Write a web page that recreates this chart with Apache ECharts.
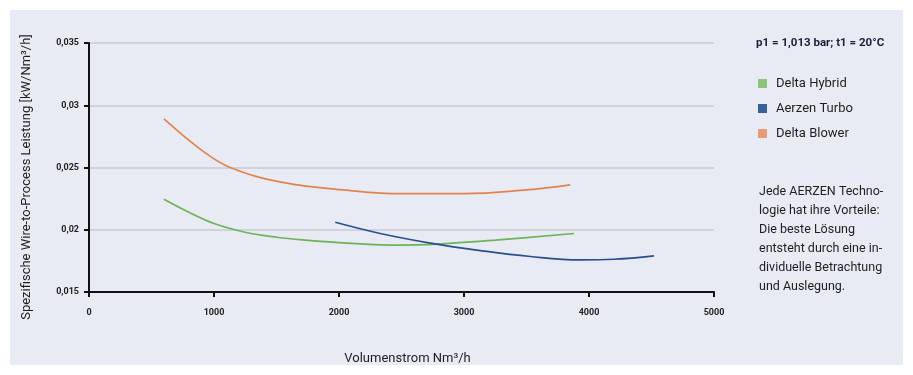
<!DOCTYPE html>
<html>
<head>
<meta charset="utf-8">
<script src="https://cdn.jsdelivr.net/npm/echarts@6/dist/echarts.min.js"></script>
<style>
html,body{margin:0;padding:0;background:#fff;}
#c{width:913px;height:375px;}
</style>
</head>
<body>
<div id="c"></div>
<script>
// Data
const seriesNames = ['Delta Hybrid', 'Aerzen Turbo', 'Delta Blower'];
const hybridX = [600, 800, 1000, 1250, 1500, 1750, 2000, 2500, 2750, 3250, 3880];
const hybridY = [0.02245, 0.0214, 0.0205, 0.0198, 0.0194, 0.01915, 0.01897, 0.01877, 0.01883, 0.01917, 0.0197];
const turboX = [1970, 2330, 2730, 3130, 3530, 3930, 4200, 4520];
const turboY = [0.0206, 0.0197, 0.01893, 0.01833, 0.01785, 0.01758, 0.01763, 0.0179];
const blowerX = [600, 900, 1130, 1550, 2090, 2500, 3000, 3500, 3850];
const blowerY = [0.0289, 0.0264, 0.0250, 0.0238, 0.02315, 0.0229, 0.0229, 0.0232, 0.0236];
const xTicks = [0, 1000, 2000, 3000, 4000, 5000];
const yTicks = [0.015, 0.02, 0.025, 0.03, 0.035];
const yAxisTitle = 'Spezifische Wire-to-Process Leistung [kW/Nm³/h]';
const xAxisTitle = 'Volumenstrom Nm³/h';
const conditionText = 'p1 = 1,013 bar; t1 = 20°C';
const noteLines = ['Jede AERZEN Techno-', 'logie hat ihre Vorteile:', 'Die beste Lösung', 'entsteht durch eine in-', 'dividuelle Betrachtung', 'und Auslegung.'];

const pair = (xs, ys) => xs.map((x, i) => [x, ys[i]]);
const lineColors = ['#6db35a', '#2a4f8e', '#e2834f'];
const legendColors = ['#8cc47c', '#3a6197', '#e59d79'];
const FONT = 'Roboto, "Noto Sans", sans-serif';

const chart = echarts.init(document.getElementById('c'), null, {renderer: 'canvas'});
const data = [pair(hybridX, hybridY), pair(turboX, turboY), pair(blowerX, blowerY)];

chart.setOption({
  backgroundColor: '#ffffff',
  animation: false,
  textStyle: {fontFamily: FONT},
  graphic: [
    {type: 'rect', z: -10, shape: {x: 10, y: 10, width: 893, height: 355}, style: {fill: '#e8ebf4'}},
    {type: 'text', left: 756, top: 37, style: {text: conditionText, font: 'bold 11.5px ' + FONT, fill: '#1a1f3a'}},
    {type: 'text', left: 759, top: 182, style: {text: noteLines.join('\n'), font: '12.5px ' + FONT, lineHeight: 19, fill: '#1e1e1e'}},
    {type: 'text', x: 27, y: 177, rotation: Math.PI / 2,
      style: {text: yAxisTitle, font: '13px ' + FONT, fill: '#1e1e1e', align: 'center', verticalAlign: 'middle'}}
  ],
  legend: {
    orient: 'vertical', left: 753, top: 72, itemWidth: 9, itemHeight: 9, itemGap: 12,
    icon: 'rect',
    textStyle: {fontFamily: FONT, fontSize: 13, color: '#1e1e1e', padding: [0, 0, 0, 4]},
    data: seriesNames.map((n, i) => ({name: n, itemStyle: {color: legendColors[i]}}))
  },
  grid: {left: 89, right: 199, top: 43, bottom: 83, containLabel: false},
  xAxis: {
    type: 'value', min: xTicks[0], max: xTicks[xTicks.length - 1], interval: 1000,
    name: xAxisTitle, nameLocation: 'middle', nameGap: 60,
    nameTextStyle: {fontSize: 13, color: '#1e1e1e', fontFamily: FONT, padding: [0, 0, 0, 12]},
    axisLine: {show: true, onZero: false, lineStyle: {color: '#111', width: 2}},
    axisTick: {show: true, length: 5, lineStyle: {color: '#111', width: 2}},
    axisLabel: {margin: 16, fontSize: 9, fontWeight: 'bold', color: '#222', formatter: v => String(v)},
    splitLine: {show: false}
  },
  yAxis: {
    type: 'value', min: yTicks[0], max: yTicks[yTicks.length - 1], interval: 0.005,
    axisLine: {show: true, lineStyle: {color: '#111', width: 2}},
    axisTick: {show: true, length: 5, lineStyle: {color: '#111', width: 2}},
    axisLabel: {margin: 10, fontSize: 9, fontWeight: 'bold', color: '#222',
      formatter: v => String(parseFloat(v.toFixed(3))).replace('.', ',')},
    splitLine: {show: true, lineStyle: {color: '#c9cbd3', width: 1.5}}
  },
  series: seriesNames.map((n, i) => ({
    name: n, type: 'line', data: data[i], smooth: 0.4, showSymbol: false, symbol: 'none',
    lineStyle: {color: lineColors[i], width: 1.7},
    itemStyle: {color: legendColors[i]}
  }))
});
</script>
</body>
</html>
